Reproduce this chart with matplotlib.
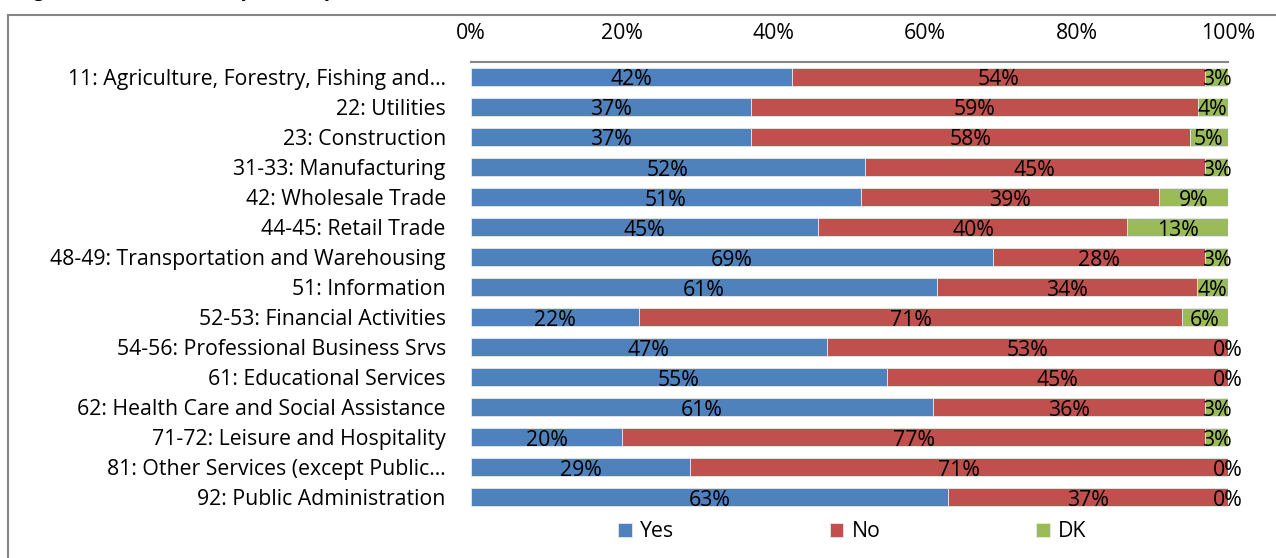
import numpy as np
import matplotlib.pyplot as plt
from matplotlib.patches import Rectangle

industries = [
    "11: Agriculture, Forestry, Fishing and…",
    "22: Utilities",
    "23: Construction",
    "31-33: Manufacturing",
    "42: Wholesale Trade",
    "44-45: Retail Trade",
    "48-49: Transportation and Warehousing",
    "51: Information",
    "52-53: Financial Activities",
    "54-56: Professional Business Srvs",
    "61: Educational Services",
    "62: Health Care and Social Assistance",
    "71-72: Leisure and Hospitality",
    "81: Other Services (except Public…",
    "92: Public Administration",
]
yes = [42, 37, 37, 52, 51, 45, 69, 61, 22, 47, 55, 61, 20, 29, 63]
no = [54, 59, 58, 45, 39, 40, 28, 34, 71, 53, 45, 36, 77, 71, 37]
dk = [3, 4, 5, 3, 9, 13, 3, 4, 6, 0, 0, 3, 3, 0, 0]
xticks = [0, 20, 40, 60, 80, 100]

plt.rcParams['font.family'] = ['Open Sans', 'DejaVu Sans']
FS = 15.3

fig = plt.figure(figsize=(12.76, 5.58), dpi=100)
ax = fig.add_axes([0.369, 0.0824, 0.5933, 0.8065])

# 100% stacked: normalise each row by its total
data = np.array([yes, no, dk], dtype=float)
shares = data / data.sum(axis=0) * 100
y = np.arange(len(industries))
colors = ['#4F81BD', '#C0504D', '#9BBB59']
names = ['Yes', 'No', 'DK']

left = np.zeros(len(industries))
for vals, share, col, name in zip(data, shares, colors, names):
    ax.barh(y, share, left=left, height=0.6, color=col, edgecolor='#e8e8e8',
            linewidth=0.6, label=name)
    for yi, l, s, v in zip(y, left, share, vals):
        ax.text(l + s / 2, yi + 0.1, f"{v:.0f}%", ha='center', va='center',
                fontsize=FS, color='black')
    left += share

ax.set_xlim(0, 100)
ax.set_ylim(len(industries) - 0.5, -0.5)
ax.set_yticks(y)
ax.set_yticklabels(industries, fontsize=FS)
ax.set_xticks(xticks)
ax.set_xticklabels([f"{t}%" for t in xticks], fontsize=FS)
ax.xaxis.tick_top()
ax.tick_params(axis='both', length=0)
ax.tick_params(axis='y', pad=18)
ax.tick_params(axis='x', pad=13)
for side in ['left', 'right', 'bottom']:
    ax.spines[side].set_visible(False)
ax.spines['top'].set_color('#868686')
ax.spines['top'].set_linewidth(1.5)

fig.legend(loc='center', bbox_to_anchor=(0.668, 0.047), ncol=3, frameon=False,
           fontsize=FS, handlelength=0.65, handleheight=0.65, handletextpad=0.4,
           columnspacing=7.3)

# outer chart frame
fig.patches.append(Rectangle((0.0063, -0.05), 1.05, 1 - 15 / 558 + 0.05,
                             transform=fig.transFigure, fill=False,
                             edgecolor='#868686', linewidth=1.5, clip_on=False))

# title is cut off at the top of the image; only its descenders show
fig.text(0.012, 1 + 4 / 558, "Figure 9: Q12 Answers, by Industry",
         family=['Liberation Serif', 'DejaVu Serif'], fontweight='bold',
         fontsize=15, va='baseline', ha='left')

fig.savefig("out.png", dpi=100)
